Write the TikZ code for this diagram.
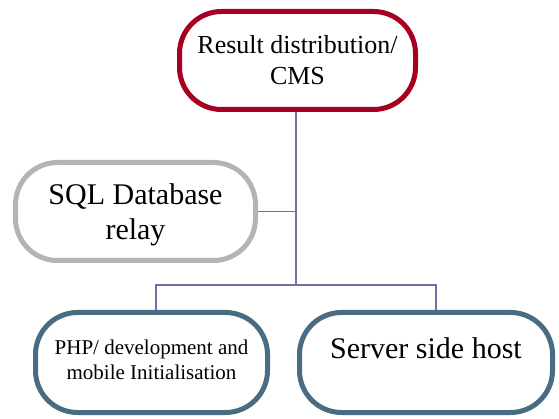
\documentclass[tikz,border=0pt]{standalone}
\usepackage{fontspec}
\setmainfont{Liberation Serif}
\begin{document}
\begin{tikzpicture}[x=1pt, y=-1pt, align=center,
    pill/.style={draw, fill=white, line width=5pt, rounded corners=42pt},
    link/.style={draw=linkblue, line width=1.5pt}]

        % Farben
        \definecolor{cmsred}{RGB}{165,0,33}
        \definecolor{sqlgray}{RGB}{180,180,180}
        \definecolor{slate}{RGB}{74,108,130}
        \definecolor{linkblue}{RGB}{112,112,168}

        % Rahmen
        \useasboundingbox (0,0) rectangle (559,419);

        % Knoten
        \node[pill, draw=cmsred, minimum width=236pt, minimum height=98pt,
              font=\fontsize{26}{31}\selectfont] (cms) at (297.5,60.5)
            {Result distribution/\\CMS};
        \node[pill, draw=sqlgray, minimum width=240pt, minimum height=98pt,
              font=\fontsize{30}{35}\selectfont, text depth=-4pt] (sql) at (135.5,211.5)
            {SQL Database\\relay};
        \node[pill, draw=slate, minimum width=232pt, minimum height=100pt,
              font=\fontsize{21}{25}\selectfont, text depth=6pt] (php) at (151.5,362.5)
            {PHP/ development and\\mobile Initialisation};
        \node[pill, draw=slate, minimum width=253pt, minimum height=100pt,
              font=\fontsize{30}{35}\selectfont, text depth=28pt] (host) at (426,362.5)
            {Server side host};

        % Verbindungen
        \coordinate (split) at (296,285);
        \draw[link] (cms.south -| split) -- (split);
        \draw[link] (sql.east) -- (sql.east -| split);
        \draw[link] ([xshift=4.5pt]php.north) |- (split) -| ([xshift=10pt]host.north);

    \end{tikzpicture}
\end{document}
